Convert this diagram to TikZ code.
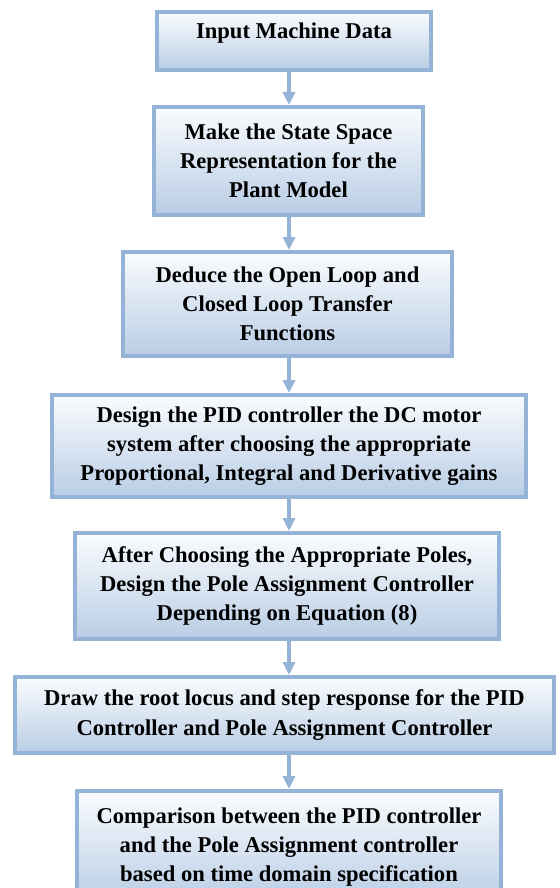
\documentclass[tikz,border=0pt]{standalone}
\usepackage{fontspec}
\setmainfont{Liberation Serif}
\usepackage{xcolor}
\definecolor{boxedge}{HTML}{95B3D7}
\definecolor{boxtop}{HTML}{FAFCFE}
\definecolor{boxbot}{HTML}{B9CDE5}
\usepackage{tikz}
\usetikzlibrary{arrows.meta,shadows}

\begin{document}
\begin{tikzpicture}[
  x=0.5pt, y=-0.5pt,
  font=\fontsize{11.3}{14.6}\selectfont\bfseries,
  stage/.style={
    rectangle, align=center, inner sep=0pt,
    minimum width=#1,
    draw=boxedge, line width=2pt,
    top color=boxtop, bottom color=boxbot,
    drop shadow={opacity=0.18, shadow xshift=0.8pt, shadow yshift=-0.8pt}
  },
  arr/.style={-{Triangle[length=6.5pt,width=6pt]}, line width=2pt, color=boxedge}
]
\useasboundingbox (0,0) rectangle (559,888);
\clip (0,0) rectangle (559,888);

\node[stage=137pt, minimum height=29pt] (input) at (294,41) {Input Machine Data\\[-4pt]\mbox{}};
\node[stage=134.5pt, minimum height=54pt] (statespace) at (288.5,161) {Make the State Space\\Representation for the\\Plant Model};
\node[stage=164.5pt, minimum height=52pt] (transfer) at (287.5,304) {Deduce the Open Loop and\\Closed Loop Transfer\\Functions};
\node[stage=237pt, minimum height=51pt] (pid) at (289,446) {Design the PID controller the DC motor\\system after choosing the appropriate\\Proportional, Integral and Derivative gains};
\node[stage=212pt, minimum height=53pt] (poles) at (287,586) {After Choosing the Appropriate Poles,\\Design the Pole Assignment Controller\\Depending on Equation (8)};
\node[stage=269.5pt, minimum height=38pt] (locus) at (284.5,715) {Draw the root locus and step response for the PID\\Controller and Pole Assignment Controller};
\node[stage=212pt, minimum height=56pt] (compare) at (289,847) {Comparison between the PID controller\\and the Pole Assignment controller\\based on time domain specification};

\coordinate (axis) at (289,0);
\foreach \a/\b in {input/statespace,statespace/transfer,transfer/pid,pid/poles,poles/locus,locus/compare} {
  \draw[arr] (\a.south -| axis) -- (\b.north -| axis);
}
\end{tikzpicture}
\end{document}
